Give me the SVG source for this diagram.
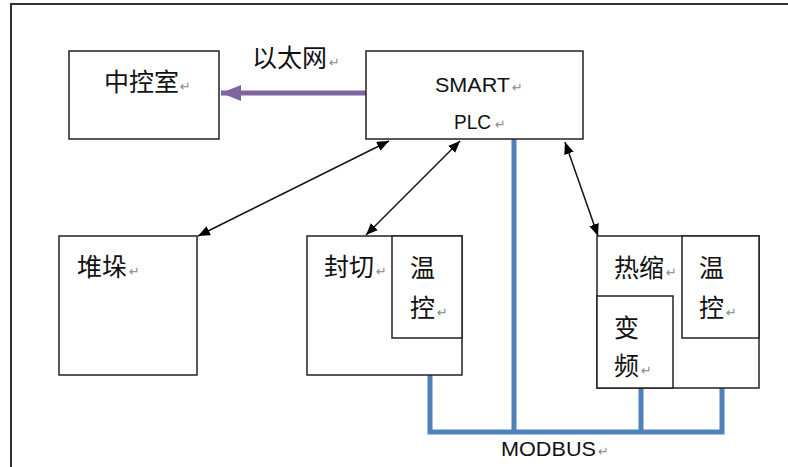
<svg xmlns="http://www.w3.org/2000/svg" width="788" height="467" viewBox="0 0 788 467">
<style>
.box{fill:#fff;stroke:#222;stroke-width:1.5}
.cn{font-family:"Noto Sans CJK SC","Liberation Sans",sans-serif;font-size:25px;fill:#111}
.en{font-family:"Liberation Sans","Noto Sans",sans-serif;font-size:21px;fill:#111}
.pm{font-family:"DejaVu Sans",sans-serif;font-size:13px;fill:#888}
.blk{stroke:#111;stroke-width:1.5;fill:none;marker-start:url(#ah);marker-end:url(#ah)}
.bus{stroke:#4F81BD;stroke-width:5;fill:none;stroke-linejoin:miter}
</style>
<defs>
<marker id="ah" viewBox="0 0 12 10" refX="12" refY="5" markerWidth="12" markerHeight="10" markerUnits="userSpaceOnUse" orient="auto-start-reverse">
<path d="M0,0 L12,5 L0,10 z" fill="#000"/>
</marker>
<marker id="ph" viewBox="0 0 20 16" refX="20" refY="8" markerWidth="20" markerHeight="16" markerUnits="userSpaceOnUse" orient="auto">
<path d="M0,0 L20,8 L0,16 z" fill="#8064A2"/>
</marker>
</defs>
<rect width="788" height="467" fill="#fff"/>
<g id="frame">
<path d="M11,467 V4 H788" fill="none" stroke="#333" stroke-width="2"/>
</g>
<g id="connectors">
<line x1="366" y1="93" x2="221" y2="93" stroke="#8064A2" stroke-width="5" marker-end="url(#ph)"/>
<line x1="389" y1="141" x2="198" y2="236" class="blk"/>
<line x1="460" y1="141" x2="366" y2="235" class="blk"/>
<line x1="565" y1="142" x2="598" y2="236" class="blk"/>
<path class="bus" d="M514,139 V432"/>
<path class="bus" d="M430,338 V432 H722 V338"/>
<path class="bus" d="M641,388 V432"/>
</g>
<g id="label-ethernet">
<text class="cn" x="252" y="67">以太网</text>
<text class="pm" x="329" y="67">↵</text>
</g>
<g id="label-modbus">
<text class="en" x="501" y="456" font-size="22" textLength="95" lengthAdjust="spacingAndGlyphs">MODBUS</text>
<text class="pm" x="598" y="456">↵</text>
</g>
<g id="zhongkongshi">
<rect class="box" x="69" y="51" width="150" height="88"/>
<text class="cn" x="104" y="91">中控室</text>
<text class="pm" x="180" y="91">↵</text>
</g>
<g id="plc">
<rect class="box" x="366" y="51" width="217" height="88"/>
<text class="en" x="435" y="92" textLength="75" lengthAdjust="spacingAndGlyphs">SMART</text>
<text class="pm" x="512" y="92">↵</text>
<text class="en" x="454" y="129" textLength="37" lengthAdjust="spacingAndGlyphs">PLC</text>
<text class="pm" x="495" y="129">↵</text>
</g>
<g id="duiduo">
<rect class="box" x="59" y="236" width="138" height="139"/>
<text class="cn" x="77" y="276">堆垛</text>
<text class="pm" x="129" y="276">↵</text>
</g>
<g id="fengqie">
<rect class="box" x="307" y="236" width="155" height="139"/>
<text class="cn" x="324" y="276">封切</text>
<text class="pm" x="376" y="276">↵</text>
</g>
<g id="wenkong-1">
<rect class="box" x="392" y="236" width="70" height="102"/>
<text class="cn" x="410" y="277">温</text>
<text class="cn" x="410" y="317">控</text>
<text class="pm" x="437" y="317">↵</text>
</g>
<g id="rexuo">
<rect class="box" x="597" y="236" width="162" height="152"/>
<text class="cn" x="614" y="277">热缩</text>
<text class="pm" x="666" y="277">↵</text>
</g>
<g id="bianpin">
<rect class="box" x="597" y="296" width="76" height="92"/>
<text class="cn" x="614" y="337">变</text>
<text class="cn" x="614" y="375">频</text>
<text class="pm" x="641" y="375">↵</text>
</g>
<g id="wenkong-2">
<rect class="box" x="682" y="236" width="77" height="102"/>
<text class="cn" x="699" y="277">温</text>
<text class="cn" x="699" y="317">控</text>
<text class="pm" x="726" y="317">↵</text>
</g>
</svg>
